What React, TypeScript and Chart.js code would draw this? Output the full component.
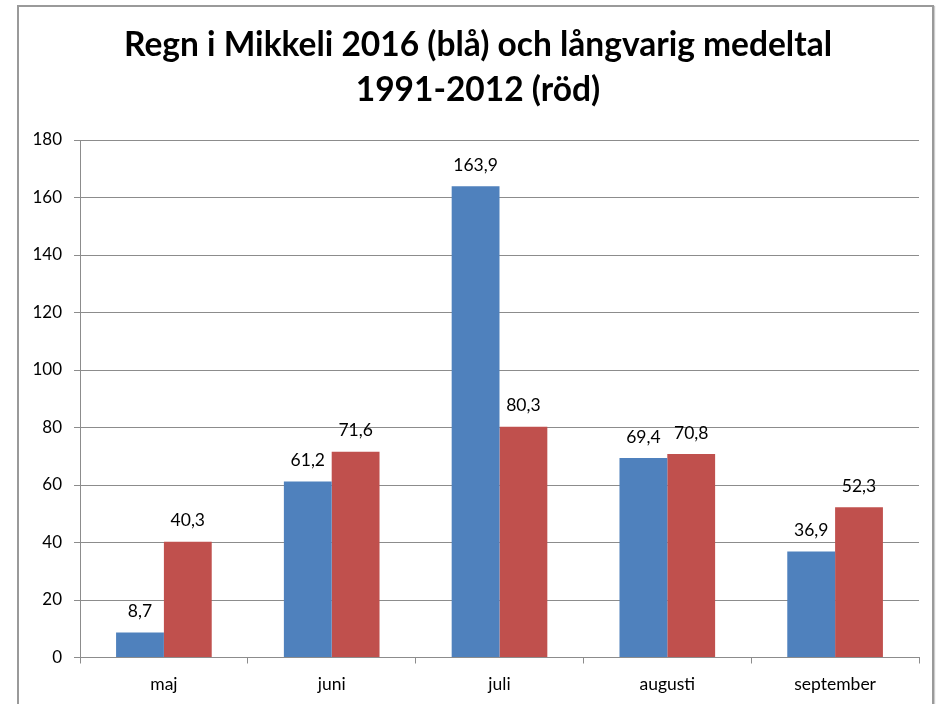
import React, { useEffect, useRef } from "react";
import { Chart, registerables } from "chart.js";

Chart.register(...registerables);

const categories = ["maj", "juni", "juli", "augusti", "september"];
const rain2016 = [8.7, 61.2, 163.9, 69.4, 36.9];
const longTermMean = [40.3, 71.6, 80.3, 70.8, 52.3];
const titleLines = ["Regn i Mikkeli 2016 (blå) och långvarig medeltal", "1991-2012 (röd)"];

const FONT = "Lato, 'Open Sans', sans-serif";

const valueLabels = {
  id: "valueLabels",
  afterDatasetsDraw(chart: any) {
    const ctx = chart.ctx;
    ctx.save();
    ctx.font = `17.5px ${FONT}`;
    ctx.fillStyle = "#000";
    ctx.textAlign = "center";
    ctx.textBaseline = "middle";
    chart.data.datasets.forEach((ds: any, di: number) => {
      const meta = chart.getDatasetMeta(di);
      meta.data.forEach((bar: any, i: number) => {
        const v = ds.data[i];
        ctx.fillText(String(v).replace(".", ","), bar.x, bar.y - 21);
      });
    });
    ctx.restore();
  },
};

const titlePlugin = {
  id: "titleDraw",
  afterDraw(chart: any) {
    const ctx = chart.ctx;
    ctx.save();
    ctx.font = `bold 33.5px ${FONT}`;
    ctx.fillStyle = "#000";
    ctx.textAlign = "center";
    ctx.textBaseline = "middle";
    ctx.fillText(titleLines[0], 478, 45);
    ctx.fillText(titleLines[1], 478, 90);
    ctx.restore();
  },
};

export default function App() {
  const ref = useRef<HTMLCanvasElement>(null);
  useEffect(() => {
    if (!ref.current) return;
    const chart = new Chart(ref.current, {
      type: "bar",
      data: {
        labels: categories,
        datasets: [
          { label: "2016", data: rain2016, backgroundColor: "#4F81BD", categoryPercentage: 0.57, barPercentage: 1 },
          { label: "1991-2012", data: longTermMean, backgroundColor: "#C0504D", categoryPercentage: 0.57, barPercentage: 1 },
        ],
      },
      options: {
        animation: false,
        responsive: false,
        layout: { padding: { top: 140, right: 19, bottom: 0, left: 0 } },
        plugins: { legend: { display: false }, title: { display: false }, tooltip: { enabled: false } },
        scales: {
          x: {
            grid: { drawOnChartArea: false, drawTicks: true, tickLength: 6, color: "#8c8c8c", offset: true },
            border: { color: "#8c8c8c", width: 1 },
            ticks: { color: "#000", font: { family: FONT, size: 17.5 }, padding: 10 },
            afterFit: (s: any) => { s.height = 704 - 657.5; },
          },
          y: {
            min: 0,
            max: 180,
            ticks: { stepSize: 20, color: "#000", font: { family: FONT, size: 17 }, padding: 12 },
            grid: { color: "#8c8c8c", tickLength: 6 },
            border: { color: "#8c8c8c", width: 1 },
            afterFit: (s: any) => { s.width = 80; },
          },
        },
      },
      plugins: [valueLabels, titlePlugin],
    });
    return () => chart.destroy();
  }, []);
  return (
    <div style={{ position: "absolute", left: 0, top: 0, width: 938, height: 704, background: "#fff", overflow: "hidden" }}>
      <div
        style={{
          position: "absolute",
          left: 17,
          top: 5,
          width: 917,
          height: 720,
          border: "2px solid #9a9a9a",
          boxSizing: "border-box",
          boxShadow: "1px 1px 1px #ccc",
        }}
      />
      <canvas ref={ref} width={938} height={704} style={{ position: "absolute", left: 0, top: 0 }} />
    </div>
  );
}
